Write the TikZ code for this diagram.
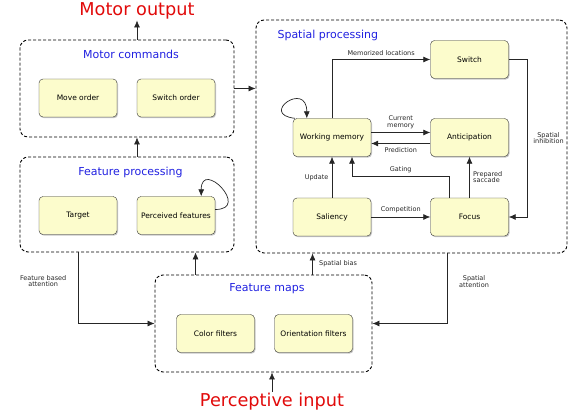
\documentclass[tikz,border=0pt]{standalone}
\usepackage{fontspec}
\setmainfont{DejaVu Sans}
\usetikzlibrary{arrows.meta,shadows}

\definecolor{boxfill}{RGB}{252,252,204}
\definecolor{titleblue}{RGB}{32,32,224}
\definecolor{bigred}{RGB}{225,10,10}

\tikzset{
  unit/.style={draw=black!80,fill=boxfill,rounded corners=4pt,minimum width=78pt,minimum height=38pt,
    font=\fontsize{7.5}{9}\selectfont,drop shadow={shadow xshift=1pt,shadow yshift=-1.2pt,opacity=0.45}},
  group/.style={draw,densely dashed,line width=0.9pt,rounded corners=8pt,inner sep=0pt},
  title/.style={text=titleblue,font=\fontsize{11}{13}\selectfont},
  io/.style={text=bigred,font=\fontsize{17.7}{20}\selectfont,inner sep=1pt},
  lbl/.style={font=\fontsize{6.5}{7.5}\selectfont,align=center},
  arr/.style={-{Latex[length=7pt,width=6pt]},line width=0.7pt,black!85}
}

\begin{document}
\begin{tikzpicture}[x=1pt,y=1pt]
\useasboundingbox (0,0) rectangle (581,412);

% dashed groups
\node[group,minimum width=214pt,minimum height=97pt] (motorbox) at (127,323.5) {};
\node[group,minimum width=214pt,minimum height=95pt] (featbox) at (127,207.5) {};
\node[group,minimum width=217pt,minimum height=97pt] (mapsbox) at (263.5,88.5) {};
\node[group,minimum width=311pt,minimum height=233pt] (spatialbox) at (411.5,275.5) {};

\node[title] at (131,358) {Motor commands};
\node[title] at (130.5,240) {Feature processing};
\node[title] at (267,123) {Feature maps};
\node[title,anchor=west] at (274,377) {Spatial processing};

\node[io] (moutput) at (137,401) {Motor output};
\node[io] (pinput) at (272,10) {Perceptive input};

% units
\node[unit] (move) at (78,314) {Move order};
\node[unit] (switchorder) at (176,314) {Switch order};
\node[unit] (target) at (78,196.5) {Target};
\node[unit] (perceived) at (176,196.5) {Perceived features};
\node[unit] (color) at (215.5,78.5) {Color filters};
\node[unit] (orient) at (313.5,78.5) {Orientation filters};
\node[unit] (switch) at (469.5,352.5) {Switch};
\node[unit] (wm) at (332,274.5) {Working memory};
\node[unit] (antic) at (469.5,274.5) {Anticipation};
\node[unit] (saliency) at (332,195) {Saliency};
\node[unit] (focus) at (469.5,195) {Focus};

% left column
\draw[arr] (motorbox.north -| moutput) -- (moutput.south);
\draw[arr] (featbox.north -| moutput) -- (motorbox.south -| moutput);
\draw[arr] (motorbox.east) -- (motorbox.east -| spatialbox.west);
\draw[arr] ([yshift=6pt]perceived.east) .. controls +(36,0) and +(0,38) .. ([xshift=-14pt]perceived.north east);

% spatial processing
\draw[arr] ([xshift=2pt]wm.north west) .. controls +(-36,4) and +(0,38) .. ([xshift=14pt]wm.north west);
\draw[arr] (wm.north) |- (switch.west) node[lbl,pos=0.75,above] {Memorized locations};
\draw[arr] ([yshift=5pt]wm.east) -- ([yshift=5pt]antic.west) node[lbl,midway,above] {Current\\[-1pt]memory};
\draw[arr] ([yshift=-6pt]antic.west) -- ([yshift=-6pt]wm.east) node[lbl,midway,below] {Prediction};
\draw[arr] (saliency.north) -- (wm.south) node[lbl,midway,left] {Update};
\draw[arr] ([xshift=-20pt]focus.north) -- ++(0,21) -| ([xshift=20pt]wm.south) node[lbl,pos=0.25,above] {Gating};
\draw[arr] (focus.north) -- (antic.south) node[lbl,midway,right,align=left] {Prepared\\[-1pt]saccade};
\draw[arr] (saliency.east) -- (focus.west) node[lbl,midway,above] {Competition};
\draw[arr] (switch.east) -- ++(19,0) |- (focus.east) node[lbl,pos=0.25,right=2pt] {Spatial\\[-1pt]inhibition};

% between groups
\draw[arr] (featbox.south -| target) |- (mapsbox.west) node[lbl,pos=0.2,left=8pt] {Feature based\\[-1pt]attention};
\draw[arr] ([xshift=192pt]spatialbox.south west) |- (mapsbox.east) node[lbl,pos=0.2,right=8pt] {Spatial\\[-1pt]attention};
\draw[arr] ([xshift=41pt]mapsbox.north west) -- ([xshift=41pt]mapsbox.north west |- featbox.south);
\draw[arr] ([xshift=158pt]mapsbox.north west) -- ([xshift=158pt]mapsbox.north west |- spatialbox.south) node[lbl,midway,right=3pt] {Spatial bias};
\draw[arr] (pinput.north) -- (pinput.north |- mapsbox.south);
\end{tikzpicture}
\end{document}
